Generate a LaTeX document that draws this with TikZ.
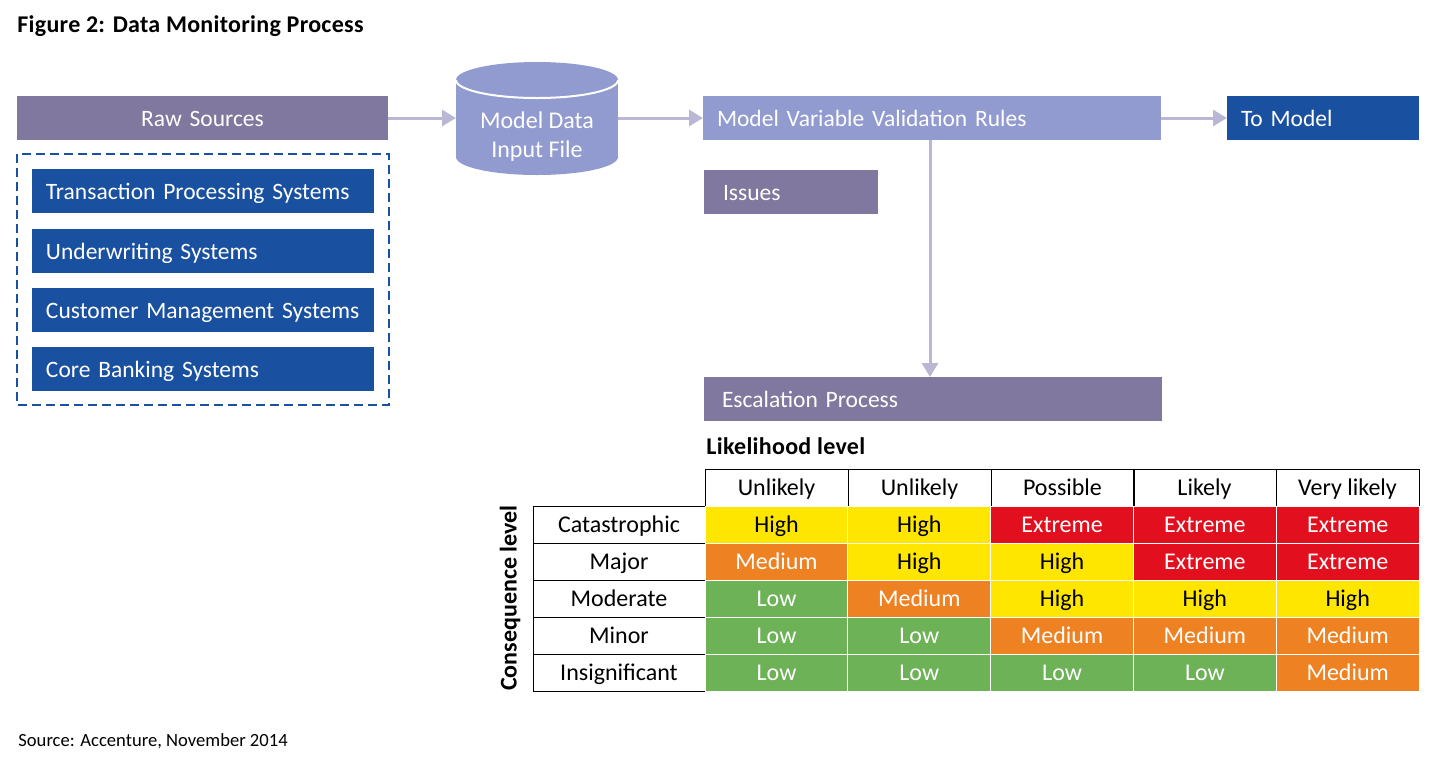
\documentclass[tikz,border=0pt]{standalone}
\usepackage{fontspec}
\setmainfont{Carlito}
\usetikzlibrary{arrows.meta}

\definecolor{rawpurple}{HTML}{80789E}
\definecolor{modelblue}{HTML}{919BCF}
\definecolor{darkblue}{HTML}{1A50A0}
\definecolor{arrowgray}{HTML}{BAB7D4}
\definecolor{lvlyellow}{HTML}{FFE600}
\definecolor{lvlorange}{HTML}{EE8122}
\definecolor{lvlred}{HTML}{E2101F}
\definecolor{lvlgreen}{HTML}{6EB257}

\tikzset{
  box/.style={anchor=north west, inner xsep=7pt, inner ysep=0pt, outer sep=0pt,
    minimum height=22pt, text height=9.5pt, text depth=1.5pt, align=left, text=white,
    font=\fontsize{11.75}{14}\selectfont},
  flow/.style={-{Triangle[length=7pt,width=8pt]}, line width=1.5pt, arrowgray},
  cell/.style={anchor=north west, minimum height=18.5pt, inner sep=0pt, outer sep=0pt,
    text height=9.5pt, text depth=1.5pt, font=\fontsize{12}{14}\selectfont},
  labelcell/.style={cell, draw=black, line width=0.5pt},
  lvlH/.style={cell, fill=lvlyellow, draw=white, line width=0.5pt, text=black},
  lvlM/.style={cell, fill=lvlorange, draw=white, line width=0.5pt, text=white},
  lvlE/.style={cell, fill=lvlred, draw=white, line width=0.5pt, text=white},
  lvlL/.style={cell, fill=lvlgreen, draw=white, line width=0.5pt, text=white}
}

\begin{document}
\begin{tikzpicture}[x=0.5pt,y=-0.5pt]
    \useasboundingbox (0,0) rectangle (1432,762);

    % Titel en bron
    \node[anchor=west, inner sep=0pt, font=\fontsize{12}{14}\selectfont\bfseries\addfontfeature{LetterSpace=1.2}] (title) at (17,26) {Figure 2: Data Monitoring Process};
    \node[anchor=west, inner sep=0pt, font=\fontsize{9.3}{12}\selectfont] (source) at (18,741) {Source: Accenture, November 2014};

    % Bronnen links
    \node[box, fill=rawpurple, text width=171.5pt, align=center] (raw) at (17,96) {Raw Sources};
    \draw[darkblue, line width=1.2pt, dash pattern=on 4.5pt off 2.5pt] (17,154) rectangle (389,405);
    \node[box, fill=darkblue, text width=157pt] (tps) at (32,169) {Transaction Processing Systems};
    \node[box, fill=darkblue, text width=157pt] (uw) at (32,229) {Underwriting Systems};
    \node[box, fill=darkblue, text width=157pt] (cms) at (32,288) {Customer Management Systems};
    \node[box, fill=darkblue, text width=157pt] (cbs) at (32,347) {Core Banking Systems};

    % Modelbestand
    \fill[modelblue] (537,80) ellipse[x radius=81, y radius=18];
    \fill[modelblue] (537,157) ellipse[x radius=81, y radius=18];
    \node[anchor=north west, fill=modelblue, minimum width=81pt, minimum height=38.5pt, inner sep=0pt, outer sep=0pt] (file) at (456,80) {};
    \node[align=center, inner sep=0pt, text=white, font=\fontsize{12}{14.5}\selectfont] (filetext) at (537,136.5) {Model Data\\Input File};
    \draw[white, line width=1pt] (file.north west) arc[start angle=180, end angle=360, x radius=81, y radius=-18];

    % Stappen rechts
    \node[box, fill=modelblue, text width=215pt] (rules) at (703,96) {Model Variable Validation Rules};
    \node[box, fill=darkblue, text width=82pt] (tomodel) at (1227,96) {To Model};
    \node[box, fill=rawpurple, text width=73pt] (issues) at (704,170) {\hspace{2.5pt}Issues};
    \node[box, fill=rawpurple, text width=215pt] (escal) at (704,377) {\hspace{2pt}Escalation Process};

    % Pijlen
    \draw[flow] (raw.east) -- (file.west |- raw.east);
    \draw[flow] (file.east |- raw.east) -- (rules.west);
    \draw[flow] (rules.east) -- (tomodel.west);
    \draw[flow] ([xshift=-1pt]rules.south) -- ([xshift=-1pt]rules.south |- escal.north);

    % Tabel met kopjes
    \node[anchor=west, inner sep=0pt, font=\fontsize{12}{14}\selectfont\bfseries\addfontfeature{LetterSpace=1.2}] (likelihood) at (706,446) {Likelihood level};
    \node[rotate=90, inner sep=0pt, font=\fontsize{12}{14}\selectfont\bfseries] (consequence) at (510,598) {Consequence level};

    \foreach \col/\xpos/\name in {1/705/Unlikely, 2/848/Unlikely, 3/991/Possible, 4/1133/Likely, 5/1276/Very likely}
      \node[labelcell, minimum width=71.5pt] (head\col) at (\xpos,469) {\name};

    \foreach \row/\ypos/\name in {1/506/Catastrophic, 2/543/Major, 3/580/Moderate, 4/617/Minor, 5/654/Insignificant}
      \node[labelcell, minimum width=86pt] (conseq\row) at (533,\ypos) {\name};

    % Risicomatrix
    \foreach \row/\ypos/\cells in {
      1/506/{H/High,H/High,E/Extreme,E/Extreme,E/Extreme},
      2/543/{M/Medium,H/High,H/High,E/Extreme,E/Extreme},
      3/580/{L/Low,M/Medium,H/High,H/High,H/High},
      4/617/{L/Low,L/Low,M/Medium,M/Medium,M/Medium},
      5/654/{L/Low,L/Low,L/Low,L/Low,M/Medium}}
      \foreach \lvl/\word [count=\col from 0] in \cells
        \node[lvl\lvl, minimum width=71.5pt] (risk\row\col) at ({705+142.8*\col},\ypos) {\word};

\end{tikzpicture}
\end{document}
